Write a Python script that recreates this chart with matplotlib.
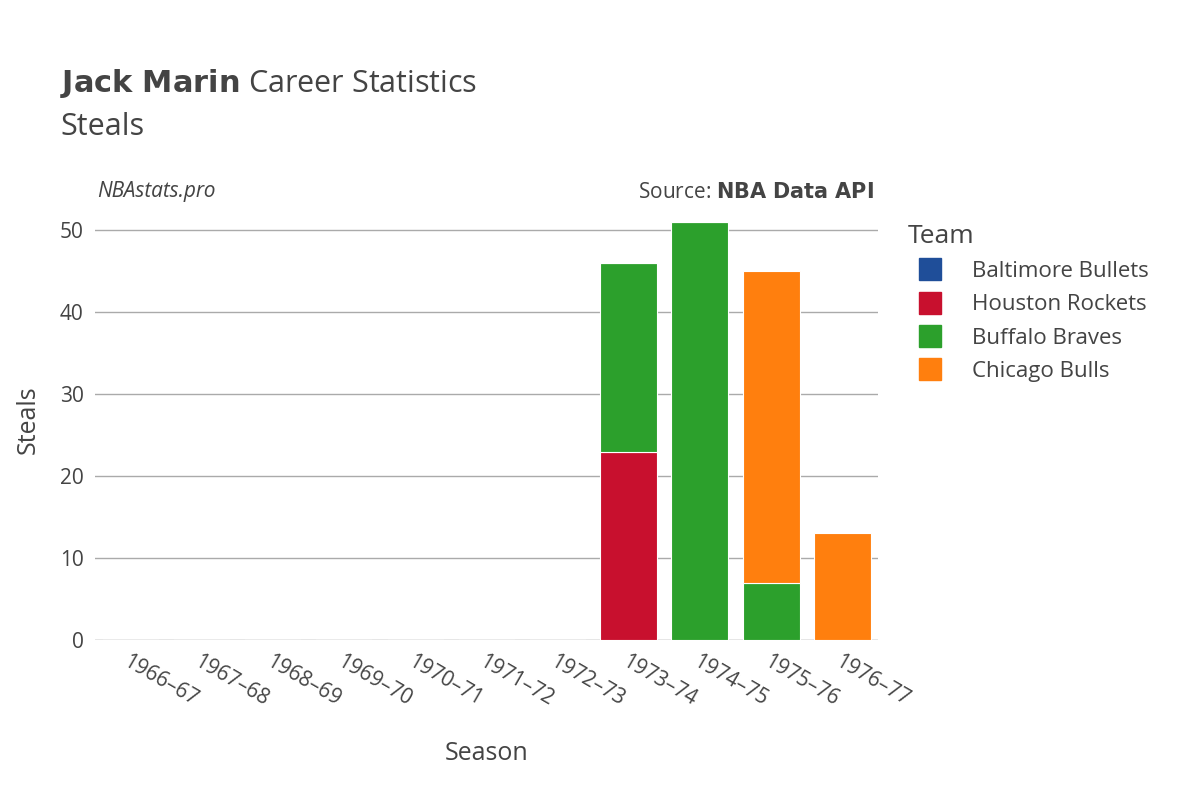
import matplotlib
matplotlib.use("Agg")
import matplotlib.pyplot as plt
from matplotlib.lines import Line2D
import numpy as np

plt.rcParams["font.family"] = "Open Sans"

seasons = ["1966–67","1967–68","1968–69","1969–70","1970–71","1971–72","1972–73","1973–74","1974–75","1975–76","1976–77"]
teams = ["Baltimore Bullets","Houston Rockets","Buffalo Braves","Chicago Bulls"]
colors = ["#1f4e99","#c8102e","#2ca02c","#ff7f0e"]
baltimore = [0,0,0,0,0,0,0,0,0,0,0]
houston   = [0,0,0,0,0,0,0,23,0,0,0]
buffalo   = [0,0,0,0,0,0,0,23,51,7,0]
chicago   = [0,0,0,0,0,0,0,0,0,38,13]
series = [baltimore, houston, buffalo, chicago]

fig = plt.figure(figsize=(12,8), dpi=100)
ax = fig.add_axes([0.079, 0.2, 0.6525, 0.55])
x = np.arange(len(seasons))
bottom = np.zeros(len(seasons))
for vals, c in zip(series, colors):
    v = np.array(vals, float)
    ax.bar(x, v, 0.8, bottom=bottom, color=c, edgecolor="white", linewidth=0.8, zorder=3)
    bottom += v

ax.set_xlim(-0.5, len(seasons)-0.5)
ax.set_ylim(0, 53.7)
ax.set_yticks([0,10,20,30,40,50])
ax.grid(axis="y", color="#aaaaaa", linewidth=1, zorder=0)
for s in ax.spines.values():
    s.set_visible(False)
ax.axhline(0, color="#e6e6e6", linewidth=2, zorder=2)
ax.tick_params(axis="both", length=0, labelsize=15, colors="#444444", pad=8)
ax.set_xticks(x)
ax.set_xticklabels(seasons, rotation=-30, ha="left", rotation_mode="anchor")
ax.set_xlabel("Season", fontsize=18, color="#444444", labelpad=22)
ax.set_ylabel("Steals", fontsize=18, color="#444444", labelpad=14)

fig.text(0.05, 0.875, "$\\bf{Jack\\ Marin}$ Career Statistics", fontsize=22, color="#444444", va="bottom")
fig.text(0.05, 0.86, "Steals", fontsize=22, color="#444444", va="top")
fig.text(0.081, 0.76, "NBAstats.pro", fontsize=15, style="italic", color="#444444", va="center")
fig.text(0.728, 0.76, "Source: $\\bf{NBA\\ Data\\ API}$", fontsize=15, color="#444444", va="center", ha="right")

handles = [Line2D([0],[0], marker="s", linestyle="", markersize=16, markerfacecolor=c, markeredgecolor=c) for c in colors]
leg = fig.legend(handles, teams, loc="upper left", bbox_to_anchor=(0.74, 0.745), frameon=False,
                 fontsize=16, title="Team", title_fontsize=19, labelspacing=0.55, handletextpad=0.9,
                 alignment="left")
for t in leg.get_texts():
    t.set_color("#444444")
leg.get_title().set_color("#444444")

fig.savefig("out.png", dpi=100)
